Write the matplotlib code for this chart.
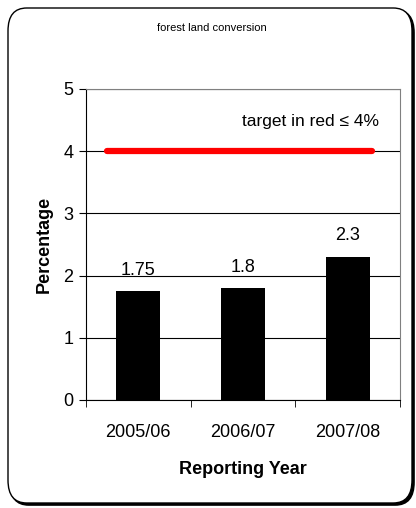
import matplotlib
matplotlib.use("Agg")
import matplotlib.pyplot as plt
from matplotlib.patches import FancyBboxPatch

years = ["2005/06", "2006/07", "2007/08"]
values = [1.75, 1.8, 2.3]
value_labels = ["1.75", "1.8", "2.3"]
target = 4
target_span = [-0.3, 2.23]

plt.rcParams["font.family"] = ["Liberation Sans", "DejaVu Sans"]

fig = plt.figure(figsize=(4.16, 5.08), dpi=100)

# rounded frame with shadow
shadow = FancyBboxPatch((10 / 416, 3 / 508), 404 / 416, 495 / 508,
                        boxstyle="round,pad=0,rounding_size=0.045",
                        transform=fig.transFigure, facecolor="black",
                        edgecolor="black", lw=1.2, zorder=-2)
fig.patches.append(shadow)
frame = FancyBboxPatch((8 / 416, 5 / 508), 404 / 416, 495 / 508,
                       boxstyle="round,pad=0,rounding_size=0.045",
                       transform=fig.transFigure, facecolor="white",
                       edgecolor="black", lw=1.0, zorder=-1)
fig.patches.append(frame)

ax = fig.add_axes([86 / 416, 108 / 508, 314 / 416, 311 / 508])
ax.set_zorder(2)
x = list(range(len(years)))
ax.bar(x, values, width=0.42, color="black", zorder=3)
for xi, v, lab in zip(x, values, value_labels):
    ax.text(xi, v + 0.2, lab, ha="center", va="bottom", fontsize=13)

ax.plot(target_span, [target, target], color="#ff0000", lw=4.5,
        solid_capstyle="round", zorder=4)
ax.text(2.3, 4.47, "target in red \u2264 4%", ha="right",
        va="center", fontsize=12.5)

ax.set_xlim(-0.5, 2.5)
ax.set_ylim(0, 5)
ax.set_yticks([0, 1, 2, 3, 4, 5])
ax.yaxis.grid(True, color="black", lw=0.8)
ax.set_axisbelow(True)
ax.set_xticks(x)
ax.set_xticklabels(years, fontsize=13)
ax.set_xticks([-0.5, 0.5, 1.5, 2.5], minor=True)
ax.tick_params(axis="x", which="major", length=0, pad=17)
ax.tick_params(axis="x", which="minor", length=5, direction="out")
ax.tick_params(axis="y", length=5, direction="out", labelsize=13, pad=4)

for s in ["top", "right"]:
    ax.spines[s].set_color("#808080")
ax.spines["left"].set_color("black")
ax.spines["bottom"].set_color("black")

ax.set_ylabel("Percentage", fontsize=13, fontweight="bold", labelpad=8)
ax.set_xlabel("Reporting Year", fontsize=13, fontweight="bold", labelpad=15)

fig.text(212 / 416, 1 - 28 / 508, "forest land conversion", ha="center",
         va="center", fontsize=8)

fig.savefig("out.png", dpi=100)
